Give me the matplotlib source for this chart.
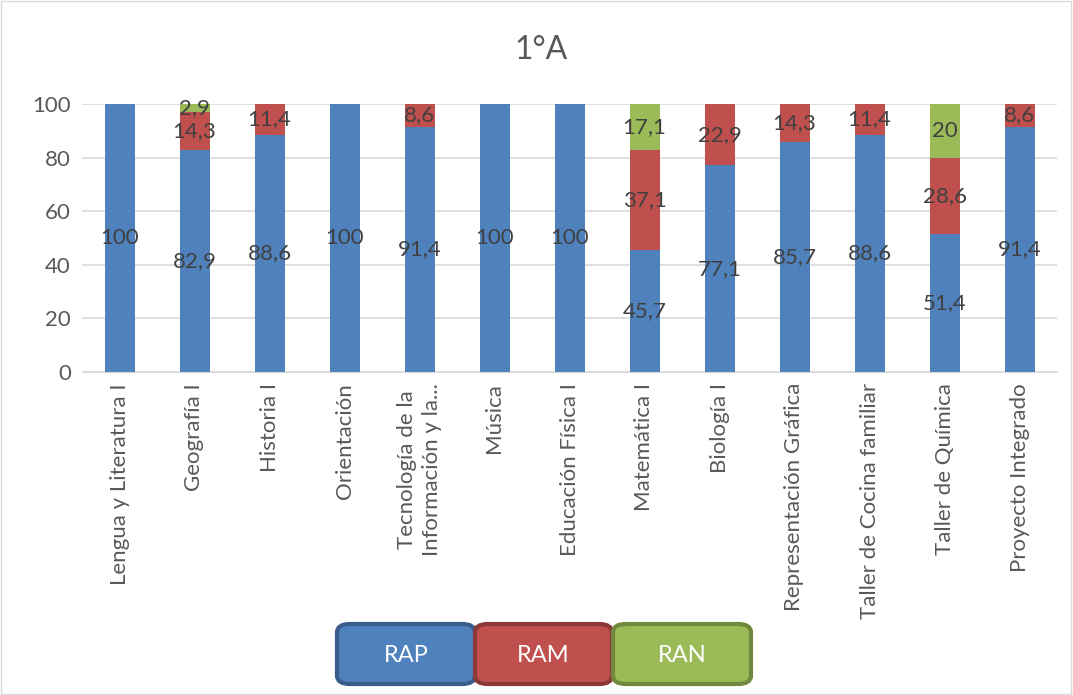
import numpy as np
import matplotlib.pyplot as plt
from matplotlib.patches import FancyBboxPatch, Rectangle

plt.rcParams['font.family'] = ['Lato', 'DejaVu Sans']

materias = ["Lengua y Literatura I", "Geografía I", "Historia I", "Orientación",
            "Tecnología de la\nInformación y la...", "Música", "Educación Física I",
            "Matemática I", "Biología I", "Representación Gráfica",
            "Taller de Cocina familiar", "Taller de Química", "Proyecto Integrado"]
rap = [100, 82.9, 88.6, 100, 91.4, 100, 100, 45.7, 77.1, 85.7, 88.6, 51.4, 91.4]
ram = [0, 14.3, 11.4, 0, 8.6, 0, 0, 37.1, 22.9, 14.3, 11.4, 28.6, 8.6]
ran = [0, 2.9, 0, 0, 0, 0, 0, 17.1, 0, 0, 0, 20, 0]

series = [("RAP", rap, "#4F81BD", "#385D8A"),
          ("RAM", ram, "#C0504D", "#8C3836"),
          ("RAN", ran, "#9BBB59", "#71893F")]

fig = plt.figure(figsize=(10.73, 6.95), dpi=100)
ax = fig.add_axes([82/1073, 1 - 372/695, (1057-82)/1073, (372-104)/695])

x = np.arange(len(materias))
bottom = np.zeros(len(materias))
for name, vals, color, edge in series:
    vals = np.array(vals, dtype=float)
    ax.bar(x, vals, 0.4, bottom=bottom, color=color, zorder=2)
    for xi, b, v in zip(x, bottom, vals):
        if v > 0:
            txt = f"{v:g}".replace(".", ",")
            ax.text(xi, b + v / 2, txt, ha="center", va="center",
                    fontsize=16, color="#404040", zorder=3)
    bottom += vals

ax.set_xlim(-0.5, len(materias) - 0.5)
ax.set_ylim(0, 100)
ax.set_yticks(range(0, 101, 20))
ax.yaxis.grid(True, color="#D9D9D9", linewidth=1.2, zorder=0)
ax.set_axisbelow(True)
ax.tick_params(axis="both", length=0, labelsize=16, colors="#595959", pad=8)
ax.set_xticks(x)
ax.set_xticklabels(materias, rotation=90, fontsize=16, linespacing=1.35)
for s in ["top", "right", "left"]:
    ax.spines[s].set_visible(False)
ax.spines["bottom"].set_color("#D9D9D9")

fig.text(541/1073, 1 - 50/695, "1°A", ha="center", va="center",
         fontsize=23, color="#595959")

# custom legend boxes
boxes = [(337, 475), (475, 612), (613, 751)]
for (x0, x1), (name, vals, color, edge) in zip(boxes, series):
    p = FancyBboxPatch((x0/1073, 1 - 684/695), (x1 - x0)/1073, 60/695,
                       boxstyle="round,pad=0,rounding_size=0.012",
                       transform=fig.transFigure, facecolor=color,
                       edgecolor=edge, linewidth=3)
    fig.patches.append(p)
    fig.text((x0 + x1)/2/1073, 1 - 656/695, name, ha="center", va="center",
             fontsize=17, color="white")

fig.patches.append(Rectangle((0.001, 0.001), 0.997, 0.997, transform=fig.transFigure,
                             fill=False, edgecolor="#D9D9D9", linewidth=1))

fig.savefig("out.png", dpi=100)
